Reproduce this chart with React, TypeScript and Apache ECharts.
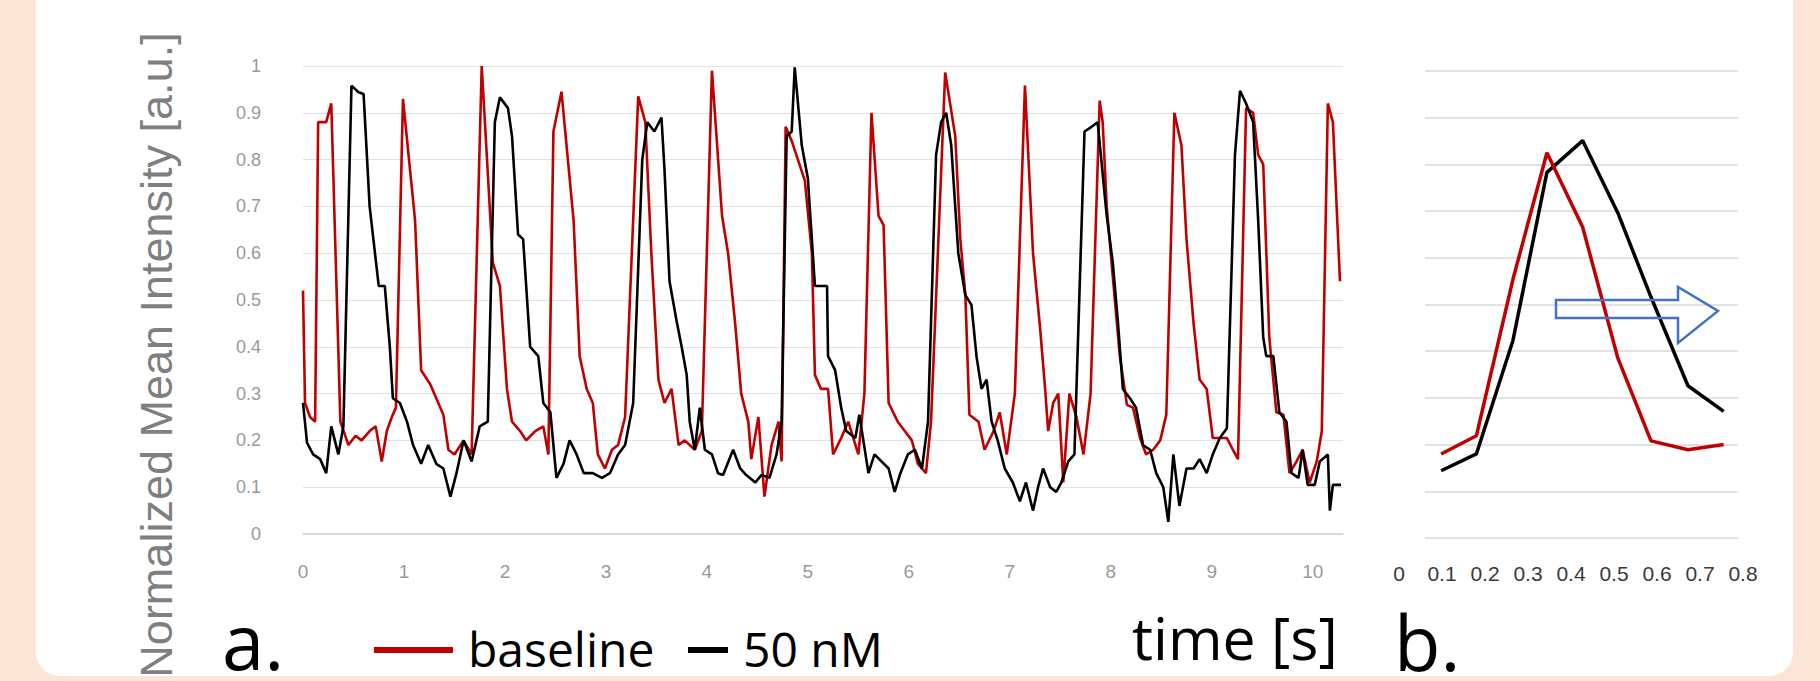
import React, { useEffect, useRef } from "react";
import * as echarts from "echarts";

// ---- Panel a: intensity traces (time [s], normalized intensity) ----
const baselineTime = [
  0.0, 0.02, 0.07, 0.12, 0.15, 0.23, 0.28, 0.37, 0.45, 0.52, 0.58, 0.66, 0.72, 0.78, 0.83, 0.88, 0.92, 0.99,
  1.11, 1.17, 1.26, 1.32, 1.39, 1.44, 1.5, 1.59, 1.67, 1.77, 1.82, 1.88, 1.95, 2.02, 2.07, 2.15, 2.21, 2.3,
  2.38, 2.43, 2.48, 2.56, 2.68, 2.74, 2.81, 2.87, 2.92, 2.99, 3.06, 3.12, 3.19, 3.32, 3.39, 3.45, 3.52, 3.58,
  3.65, 3.72, 3.78, 3.88, 3.95, 4.05, 4.15, 4.21, 4.28, 4.34, 4.41, 4.44, 4.51, 4.57, 4.64, 4.71, 4.74, 4.78,
  4.84, 4.97, 5.04, 5.07, 5.13, 5.2, 5.25, 5.33, 5.4, 5.5, 5.56, 5.63, 5.7, 5.75, 5.8, 5.89, 5.96, 6.03,
  6.09, 6.17, 6.22, 6.36, 6.46, 6.51, 6.56, 6.6, 6.69, 6.75, 6.84, 6.9, 6.97, 7.05, 7.15, 7.23, 7.3, 7.35,
  7.38, 7.43, 7.48, 7.53, 7.59, 7.66, 7.73, 7.8, 7.89, 7.92, 7.96, 8.02, 8.09, 8.16, 8.22, 8.29, 8.35, 8.42,
  8.49, 8.55, 8.63, 8.7, 8.75, 8.82, 8.88, 8.95, 9.01, 9.08, 9.15, 9.21, 9.26, 9.34, 9.41, 9.46, 9.51, 9.57,
  9.64, 9.71, 9.77, 9.84, 9.9, 9.97, 10.04, 10.09, 10.15, 10.2, 10.27,
];
const baselineValue = [
  0.52, 0.28, 0.25, 0.24, 0.88, 0.88, 0.92, 0.24, 0.19, 0.21, 0.2, 0.22, 0.23, 0.155, 0.22, 0.25, 0.27, 0.93,
  0.67, 0.35, 0.32, 0.29, 0.255, 0.18, 0.17, 0.2, 0.17, 1.0, 0.81, 0.58, 0.53, 0.31, 0.24, 0.22, 0.2, 0.22,
  0.23, 0.17, 0.86, 0.945, 0.67, 0.38, 0.31, 0.28, 0.17, 0.14, 0.18, 0.19, 0.25, 0.935, 0.88, 0.6, 0.33, 0.28,
  0.31, 0.19, 0.2, 0.18, 0.22, 0.99, 0.68, 0.6, 0.45, 0.3, 0.24, 0.16, 0.25, 0.08, 0.19, 0.24, 0.155, 0.87,
  0.84, 0.755, 0.6, 0.34, 0.31, 0.31, 0.17, 0.205, 0.24, 0.17, 0.3, 0.9, 0.68, 0.66, 0.28, 0.24, 0.22, 0.2,
  0.15, 0.13, 0.24, 0.986, 0.85, 0.63, 0.51, 0.255, 0.24, 0.18, 0.22, 0.26, 0.17, 0.3, 0.958, 0.6, 0.44, 0.31,
  0.22, 0.28, 0.3, 0.11, 0.3, 0.25, 0.17, 0.3, 0.926, 0.88, 0.7, 0.55, 0.38, 0.276, 0.27, 0.205, 0.17, 0.18,
  0.2, 0.255, 0.9, 0.83, 0.63, 0.45, 0.33, 0.31, 0.205, 0.205, 0.205, 0.18, 0.16, 0.91, 0.9, 0.81, 0.79, 0.42,
  0.26, 0.255, 0.13, 0.155, 0.18, 0.11, 0.155, 0.22, 0.92, 0.88, 0.54,
];
const nM50Time = [
  0.0, 0.04, 0.1, 0.17, 0.23, 0.28, 0.35, 0.4, 0.48, 0.55, 0.6, 0.66, 0.75, 0.81, 0.86, 0.89, 0.96, 1.03,
  1.09, 1.17, 1.24, 1.32, 1.39, 1.46, 1.52, 1.59, 1.67, 1.75, 1.83, 1.9, 1.95, 2.03, 2.07, 2.13, 2.18, 2.25,
  2.33, 2.38, 2.45, 2.51, 2.58, 2.64, 2.71, 2.78, 2.87, 2.96, 3.04, 3.12, 3.19, 3.27, 3.36, 3.41, 3.48, 3.55,
  3.58, 3.63, 3.7, 3.75, 3.8, 3.83, 3.88, 3.93, 3.98, 4.05, 4.11, 4.16, 4.26, 4.33, 4.39, 4.48, 4.54, 4.62,
  4.69, 4.74, 4.79, 4.84, 4.87, 4.94, 5.0, 5.07, 5.19, 5.2, 5.27, 5.33, 5.38, 5.47, 5.51, 5.6, 5.66, 5.73,
  5.8, 5.86, 5.91, 5.99, 6.06, 6.13, 6.19, 6.27, 6.32, 6.37, 6.42, 6.49, 6.56, 6.62, 6.67, 6.72, 6.77, 6.82,
  6.88, 6.95, 7.03, 7.1, 7.16, 7.23, 7.28, 7.33, 7.4, 7.46, 7.51, 7.58, 7.64, 7.74, 7.81, 7.87, 7.96, 8.02,
  8.07, 8.12, 8.19, 8.25, 8.32, 8.39, 8.45, 8.52, 8.57, 8.62, 8.68, 8.75, 8.82, 8.88, 8.95, 9.01, 9.08, 9.15,
  9.23, 9.28, 9.34, 9.41, 9.46, 9.51, 9.54, 9.61, 9.67, 9.74, 9.79, 9.86, 9.9, 9.95, 10.02, 10.07, 10.15,
  10.17, 10.2, 10.28,
];
const nM50Value = [
  0.28, 0.195, 0.17, 0.16, 0.13, 0.23, 0.17, 0.23, 0.958, 0.944, 0.94, 0.7, 0.53, 0.53, 0.4, 0.29, 0.28, 0.24,
  0.19, 0.15, 0.19, 0.15, 0.14, 0.08, 0.13, 0.2, 0.155, 0.23, 0.24, 0.88, 0.933, 0.91, 0.85, 0.64, 0.63, 0.4,
  0.38, 0.28, 0.26, 0.12, 0.15, 0.2, 0.17, 0.13, 0.13, 0.12, 0.13, 0.17, 0.19, 0.28, 0.8, 0.88, 0.86, 0.89,
  0.78, 0.54, 0.455, 0.4, 0.34, 0.24, 0.18, 0.27, 0.18, 0.17, 0.13, 0.126, 0.18, 0.14, 0.126, 0.11, 0.126, 0.12,
  0.17, 0.24, 0.85, 0.86, 0.997, 0.83, 0.76, 0.53, 0.53, 0.38, 0.35, 0.27, 0.22, 0.205, 0.255, 0.13, 0.17, 0.155,
  0.14, 0.09, 0.126, 0.17, 0.18, 0.14, 0.24, 0.81, 0.88, 0.9, 0.83, 0.6, 0.51, 0.49, 0.38, 0.31, 0.33, 0.24,
  0.2, 0.14, 0.11, 0.07, 0.11, 0.05, 0.1, 0.14, 0.1, 0.09, 0.11, 0.155, 0.17, 0.86, 0.87, 0.88, 0.68, 0.58,
  0.455, 0.31, 0.29, 0.27, 0.19, 0.18, 0.13, 0.1, 0.026, 0.17, 0.06, 0.14, 0.14, 0.16, 0.13, 0.17, 0.205, 0.226,
  0.81, 0.947, 0.92, 0.88, 0.67, 0.42, 0.38, 0.38, 0.26, 0.24, 0.13, 0.12, 0.18, 0.105, 0.105, 0.155, 0.17,
  0.05, 0.105, 0.105,
];

// ---- Panel b: averaged single event ----
const eventTime = [0.098, 0.18, 0.265, 0.344, 0.427, 0.509, 0.586, 0.672, 0.755];
const eventBaseline = [0.18, 0.219, 0.554, 0.825, 0.666, 0.385, 0.208, 0.189, 0.2];
const event50nM = [0.144, 0.18, 0.423, 0.783, 0.851, 0.696, 0.516, 0.326, 0.271];

const RED = "#C00000";
const BLACK = "#000000";
const SANS = "'Open Sans', 'Liberation Sans', sans-serif";
const TICK_FONT = "'Liberation Sans', Arial, sans-serif";

const pairs = (xs: number[], ys: number[]) => xs.map((x, i) => [x, ys[i]]);

export default function App() {
  const ref = useRef<HTMLDivElement>(null);
  useEffect(() => {
    document.body.style.margin = "0";
    if (!ref.current) return;
    const chart = echarts.init(ref.current, null, { renderer: "svg" });
    chart.setOption({
      animation: false,
      backgroundColor: "#FBE5D6",
      grid: [
        { left: 303, top: 66, width: 1040, height: 468 },
        { left: 1399, top: 71, width: 344, height: 467 },
        { left: 1425, top: 71, width: 313, height: 467 },
      ],
      xAxis: [
        {
          gridIndex: 0, type: "value", min: 0, max: 10.3, interval: 1,
          axisLine: { show: true, lineStyle: { color: "#d2d2d2", width: 1.5 } },
          axisTick: { show: false }, splitLine: { show: false },
          axisLabel: { color: "#999999", fontSize: 19, margin: 28, fontFamily: TICK_FONT, showMaxLabel: false },
        },
        {
          gridIndex: 1, type: "value", min: 0, max: 0.8, interval: 0.1,
          axisLine: { show: false }, axisTick: { show: false }, splitLine: { show: false },
          axisLabel: { color: "#3a3a3a", fontSize: 21, margin: 25, fontFamily: TICK_FONT },
        },
        { gridIndex: 2, type: "value", min: 0, max: 1, show: false },
      ],
      yAxis: [
        {
          gridIndex: 0, type: "value", min: 0, max: 1, interval: 0.1,
          axisLine: { show: false }, axisTick: { show: false },
          splitLine: { show: true, lineStyle: { color: "#e2e2e2", width: 1 } },
          axisLabel: { color: "#999999", fontSize: 18, margin: 42, fontFamily: TICK_FONT },
        },
        { gridIndex: 1, type: "value", min: 0, max: 1, show: false },
        {
          gridIndex: 2, type: "value", min: 0, max: 1, interval: 0.1,
          axisLine: { show: false }, axisTick: { show: false }, axisLabel: { show: false },
          splitLine: { show: true, lineStyle: { color: "#d9d9d9", width: 1.5 } },
        },
      ],
      series: [
        {
          name: "baseline", type: "line", xAxisIndex: 0, yAxisIndex: 0, symbol: "none", z: 3,
          data: pairs(baselineTime, baselineValue),
          lineStyle: { color: RED, width: 2.6 }, itemStyle: { color: RED },
        },
        {
          name: "50 nM", type: "line", xAxisIndex: 0, yAxisIndex: 0, symbol: "none", z: 4,
          data: pairs(nM50Time, nM50Value),
          lineStyle: { color: BLACK, width: 2.6 }, itemStyle: { color: BLACK },
        },
        {
          name: "baseline event", type: "line", xAxisIndex: 1, yAxisIndex: 1, symbol: "none", z: 4,
          data: pairs(eventTime, eventBaseline),
          lineStyle: { color: RED, width: 3.5 }, itemStyle: { color: RED },
        },
        {
          name: "50 nM event", type: "line", xAxisIndex: 1, yAxisIndex: 1, symbol: "none", z: 3,
          data: pairs(eventTime, event50nM),
          lineStyle: { color: BLACK, width: 3.5 }, itemStyle: { color: BLACK },
        },
      ],
      graphic: [
        {
          type: "rect", z: -10, silent: true,
          shape: { x: 36, y: -40, width: 1757, height: 716, r: 24 },
          style: { fill: "#ffffff" },
        },
        {
          type: "text", x: 156, y: 355, rotation: Math.PI / 2, z: 10,
          style: {
            text: "Normalized Mean Intensity [a.u.]", fontSize: 45, fontFamily: TICK_FONT,
            fill: "#7f7f7f", textAlign: "center", textVerticalAlign: "middle",
          },
        },
        {
          type: "text", x: 222, y: 640, z: 10,
          style: { text: "a.", fontSize: 76, fontFamily: SANS, fill: "#000", textAlign: "left", textVerticalAlign: "middle" },
        },
        {
          type: "line", z: 10,
          shape: { x1: 374, y1: 650, x2: 453, y2: 650 },
          style: { stroke: RED, lineWidth: 6 },
        },
        {
          type: "text", x: 468, y: 648, z: 10,
          style: { text: "baseline", fontSize: 48, fontFamily: SANS, fill: "#000", textAlign: "left", textVerticalAlign: "middle" },
        },
        {
          type: "line", z: 10,
          shape: { x1: 688, y1: 650, x2: 728, y2: 650 },
          style: { stroke: BLACK, lineWidth: 6 },
        },
        {
          type: "text", x: 743, y: 648, z: 10,
          style: { text: "50 nM", fontSize: 48, fontFamily: SANS, fill: "#000", textAlign: "left", textVerticalAlign: "middle" },
        },
        {
          type: "text", x: 1132, y: 637, z: 10,
          style: { text: "time [s]", fontSize: 59, fontFamily: SANS, fill: "#000", textAlign: "left", textVerticalAlign: "middle" },
        },
        {
          type: "text", x: 1394, y: 641, z: 10,
          style: { text: "b.", fontSize: 76, fontFamily: SANS, fill: "#000", textAlign: "left", textVerticalAlign: "middle" },
        },
        {
          type: "polygon", z: 20,
          shape: {
            points: [
              [1556, 300], [1678, 300], [1678, 287], [1718, 311], [1678, 343], [1678, 318], [1556, 318],
            ],
          },
          style: { fill: "none", stroke: "#4472C4", lineWidth: 2.5 },
        },
      ],
    });
    return () => chart.dispose();
  }, []);
  return <div ref={ref} style={{ width: 1820, height: 681 }} />;
}
